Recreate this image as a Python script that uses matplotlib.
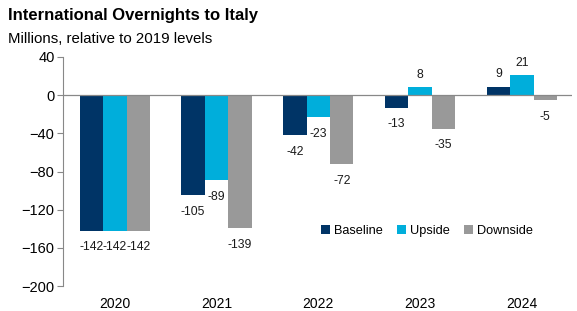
import numpy as np
import matplotlib.pyplot as plt

plt.rcParams['font.family'] = ['Liberation Sans', 'DejaVu Sans']

years = ['2020', '2021', '2022', '2023', '2024']
baseline = [-142, -105, -42, -13, 9]
upside = [-142, -89, -23, 8, 21]
downside = [-142, -139, -72, -35, -5]

series = [('Baseline', baseline, '#003466'),
          ('Upside', upside, '#00AEDB'),
          ('Downside', downside, '#999999')]

fig = plt.figure(figsize=(5.77, 3.11), dpi=100)
ax = fig.add_axes([0.109, 0.080, 0.882, 0.737])

x = np.arange(len(years))
w = 0.23
for i, (name, vals, col) in enumerate(series):
    pos = x + (i - 1) * w
    ax.bar(pos, vals, width=w, color=col, label=name, zorder=2)
    for px, v in zip(pos, vals):
        off = -12 if v < 0 else 9
        ax.annotate(str(v), (px, v), xytext=(0, off), textcoords='offset points',
                    ha='center', va='center', fontsize=8.7, color='#1a1a1a')

ax.axhline(0, color='#888888', lw=0.9, zorder=3)
ax.set_ylim(-200, 40)
ax.set_yticks(range(-200, 41, 40))
ax.set_xlim(-0.51, 4.49)
ax.set_xticks(x)
ax.set_xticklabels(years)

for s in ['top', 'right', 'bottom']:
    ax.spines[s].set_visible(False)
ax.spines['left'].set_color('#888888')
ax.tick_params(axis='y', length=4, color='#888888', labelsize=10.5, pad=2)
ax.tick_params(axis='x', length=0, labelsize=10, pad=8)

ax.legend(loc='center', bbox_to_anchor=(0.74, 0.257), bbox_transform=fig.transFigure,
          ncol=3, frameon=False, fontsize=9.2, handlelength=0.7, handleheight=0.7,
          handletextpad=0.3, columnspacing=1.1)

fig.text(0.014, 0.95, 'International Overnights to Italy', fontsize=12,
         fontweight='bold', va='center')
fig.text(0.014, 0.875, 'Millions, relative to 2019 levels', fontsize=10.8, va='center')

fig.savefig('out.png', dpi=100)
